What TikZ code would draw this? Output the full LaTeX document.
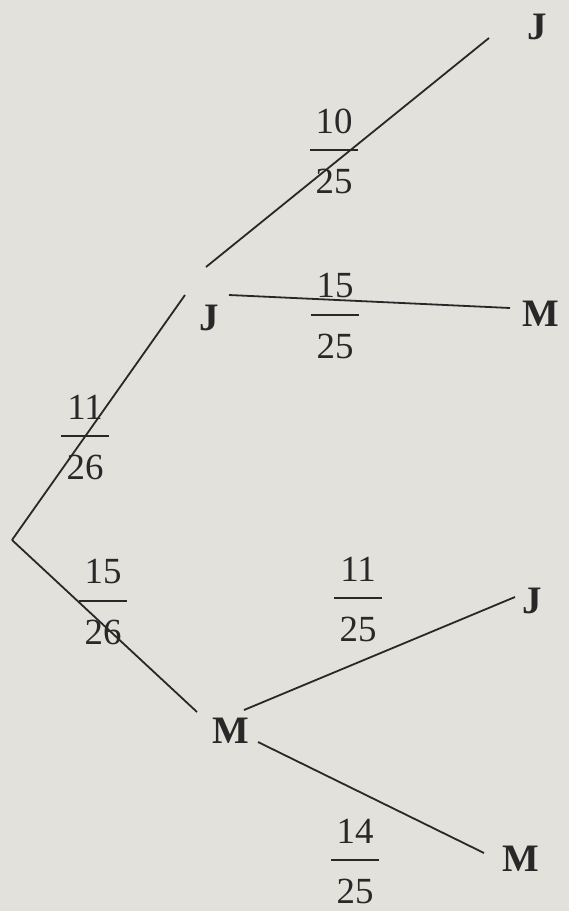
\documentclass[tikz,border=0pt]{standalone}
\usepackage{fontspec}
\setmainfont{Liberation Serif}
\definecolor{paper}{RGB}{226,225,220}
\definecolor{ink}{RGB}{40,40,40}
\begin{document}
\begin{tikzpicture}[x=1bp,y=-1bp,
  branch/.style={draw=ink, line width=1.8bp},
  fracbar/.style={draw=ink, line width=1.8bp},
  fr/.style={inner sep=0pt, text=ink, font=\fontsize{37}{42}\selectfont},
  lbl/.style={inner sep=0pt, text=ink, font=\fontsize{39}{44}\selectfont\bfseries}]
\newcommand\myfrac[5]{%
  \node[fr] (#5n) at (#1,#2-29) {#3};
  \node[fr] (#5d) at (#1,#2+31) {#4};
  \draw[fracbar] (#1-24,#2) -- (#1+24,#2);}
% background
\fill[paper] (0,0) rectangle (569,911);
\useasboundingbox (0,0) rectangle (569,911);
% labels
\coordinate (root) at (12,540);
\node[lbl] (J1) at (209,318) {J};
\node[lbl] (M1) at (231,731) {M};
\node[lbl] (JJ) at (537,27) {J};
\node[lbl] (JM) at (541,314) {M};
\node[lbl] (MJ) at (532,601) {J};
\node[lbl] (MM) at (521,859) {M};
% branch end points
\coordinate (r1) at (185,295);
\coordinate (r2) at (197,712);
\coordinate (j1a) at (206,267);
\coordinate (j1b) at (489,38);
\coordinate (j2a) at (229,295);
\coordinate (j2b) at (510,308);
\coordinate (m1a) at (244,710);
\coordinate (m1b) at (515,597);
\coordinate (m2a) at (258,742);
\coordinate (m2b) at (484,853);
% branches
\draw[branch] (root) -- (r1);
\draw[branch] (root) -- (r2);
\draw[branch] (j1a) -- (j1b);
\draw[branch] (j2a) -- (j2b);
\draw[branch] (m1a) -- (m1b);
\draw[branch] (m2a) -- (m2b);
% fractions
\myfrac{334}{150}{10}{25}{fa}
\myfrac{335}{315}{15}{25}{fb}
\myfrac{85}{436}{11}{26}{fc}
\myfrac{103}{601}{15}{26}{fd}
\myfrac{358}{598}{11}{25}{fe}
\myfrac{355}{860}{14}{25}{ff}
\end{tikzpicture}
\end{document}
